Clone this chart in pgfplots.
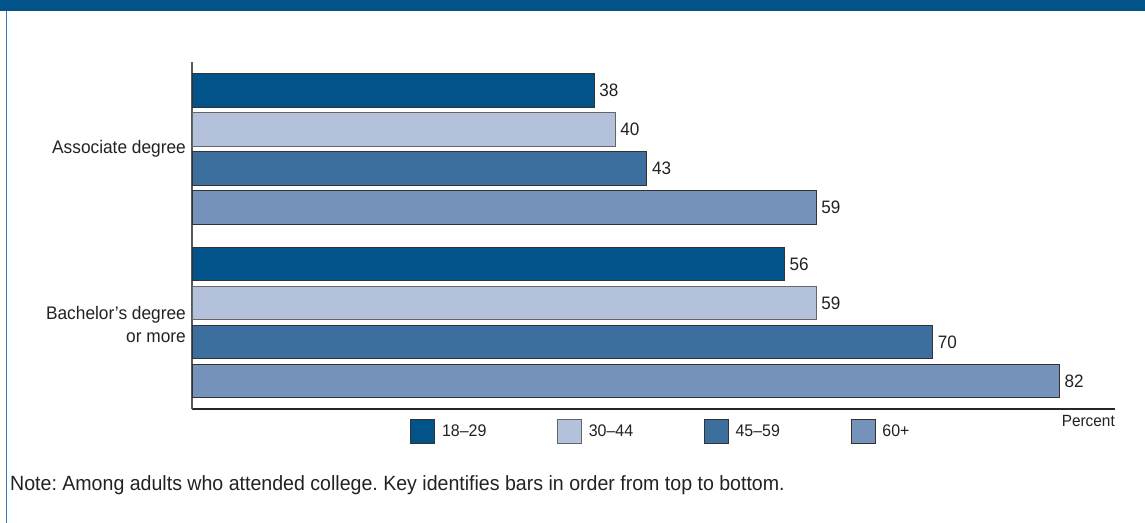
\documentclass[border=0pt]{standalone}
\usepackage{pgfplots}
\pgfplotsset{compat=1.18}
\usepackage{fontspec}
\setmainfont{Liberation Sans}[FakeStretch=0.95]
\definecolor{cA}{HTML}{02538A}
\definecolor{cB}{HTML}{B3C1DB}
\definecolor{cC}{HTML}{3D6F9E}
\definecolor{cD}{HTML}{7592BA}
\definecolor{band}{HTML}{02538A}
\definecolor{leftline}{HTML}{3E7DB3}
\definecolor{txt}{HTML}{222222}
\frenchspacing
\begin{document}
\begin{tikzpicture}
\path[use as bounding box] (0,0) rectangle (1145bp,523bp);
\fill[band] (0,512bp) rectangle (1145bp,523bp);
\draw[leftline, line width=1.5bp] (6.5bp,0) -- (6.5bp,512bp);
\begin{axis}[
  at={(192bp,114bp)}, anchor=south west,
  scale only axis, width=923bp, height=347bp,
  xmin=0, xmax=87.27, ymin=0, ymax=347,
  axis x line*=bottom, axis y line*=left,
  x axis line style={draw=black!85, line width=1.4bp, -},
  y axis line style={draw=black!65, line width=1.6bp, -},
  xtick=\empty,
  ytick={260,85}, yticklabels={Associate degree,{Bachelor’s degree\\or more}},
  major tick length=0pt,
  yticklabel style={align=right, inner sep=0pt, xshift=-6bp, text=txt,
    font=\fontsize{18.2bp}{23bp}\selectfont},
  xlabel={Percent},
  xlabel style={at={(axis description cs:1,0)}, anchor=north east, inner sep=0pt, yshift=-6bp,
    text=txt, font=\fontsize{16.2bp}{16.2bp}\selectfont},
  xbar, bar width=33.5bp, bar shift=0pt,
  /pgf/number format/assume math mode=true,
  nodes near coords,
  every node near coord/.append style={inner sep=0pt, xshift=5bp, text=txt,
    font=\fontsize{18bp}{18bp}\selectfont},
  legend columns=4,
  legend style={at={(0.2362,-0.0634)}, anchor=west, draw=none, inner sep=0pt,
    nodes={inner sep=0pt, text=txt, font=\fontsize{16.8bp}{16.8bp}\selectfont}},
  legend image code/.code={\draw[#1, line width=0.8bp] (0bp,-12bp) rectangle (24bp,12bp);},
  legend cell align=left,
  clip=false,
]
\addplot[fill=cA, draw=black!80, line width=0.8bp] coordinates {(38,318.5) (56,145)};
\addlegendentry{\hspace{7bp}\makebox[115bp][l]{18–29}}
\addplot[fill=cB, draw=black!60, line width=0.8bp] coordinates {(40,279.5) (59,106)};
\addlegendentry{\hspace{7bp}\makebox[115bp][l]{30–44}}
\addplot[fill=cC, draw=black!80, line width=0.8bp] coordinates {(43,240.5) (70,67)};
\addlegendentry{\hspace{7bp}\makebox[115bp][l]{45–59}}
\addplot[fill=cD, draw=black!80, line width=0.8bp] coordinates {(59,201.5) (82,28)};
\addlegendentry{\hspace{7bp}\makebox[115bp][l]{60+}}
\end{axis}
\node[anchor=west, inner sep=0pt, text=txt, font=\fontsize{20.6bp}{20.6bp}\selectfont] at (10bp,38bp)
  {Note: Among adults who attended college. Key identifies bars in order from top to bottom.};
\end{tikzpicture}
\end{document}
